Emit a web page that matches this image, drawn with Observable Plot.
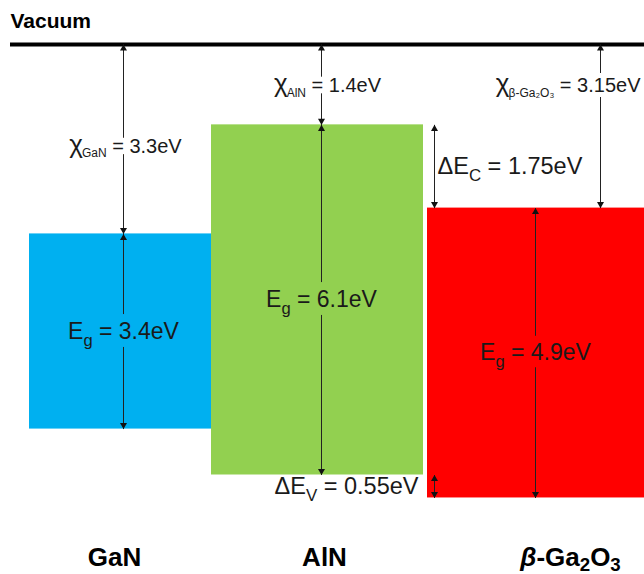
<!DOCTYPE html>
<html><head><meta charset="utf-8">
<script src="https://cdn.jsdelivr.net/npm/d3@7"></script>
<script src="https://cdn.jsdelivr.net/npm/@observablehq/plot@0.6"></script>
<style>body{margin:0;background:#fff;} svg{display:block;}</style>
</head><body><div id="chart"></div>
<script>
// ---- data (energies in eV relative to vacuum level) ----
const materials = ["GaN", "AlN", "β-Ga2O3"];
const nameLabels = ["GaN", "AlN", "β-Ga_{2}O_{3}"];
const chiSubs = ["GaN", "AlN", "β-Ga₂O₃"];
const affinity = [3.3, 1.4, 3.15];      // labelled electron affinity, eV
const bandgap = [3.4, 6.1, 4.9];        // labelled band gap, eV
const cbEdge = [-3.3, -1.4, -2.85];     // conduction band edge as drawn
const vbEdge = [-6.7, -7.5, -7.9];      // valence band edge as drawn
const deltaEc = 1.75;
const deltaEv = 0.55;
const vacuumLevel = 0;

// ---- style / schematic layout (not data) ----
const fills = ["#00b0f0", "#92d050", "#ff0000"];
const layout = {
  left: [29, 211, 427], right: [211, 423, 644],
  chiX: [123, 321, 600], egX: [123, 321, 535],
  chiLabelX: [125, 327, 640], chiLabelE: [-1.78, -0.72, -0.72],
  nameX: [114, 324, 570], offsetX: 434,
  offsetLabelLeft: 437, offsetLabelRight: 418, vacuumStart: 10, vacuumEnd: 644
};

const rows = materials.map((m, i) => ({
  name: m, cb: cbEdge[i], vb: vbEdge[i], fill: fills[i],
  x1: layout.left[i], x2: layout.right[i],
  chiX: layout.chiX[i], egX: layout.egX[i],
  chiLabel: `χ_{${chiSubs[i]}} = ${affinity[i]}eV`,
  chiLabelX: layout.chiLabelX[i], chiLabelE: layout.chiLabelE[i],
  egLabel: `E_{g} = ${bandgap[i]}eV`, egMid: (cbEdge[i] + vbEdge[i]) / 2,
  nameLabel: nameLabels[i], nameX: layout.nameX[i]
}));

const arrows = [
  ...rows.map(r => ({x: r.chiX, top: vacuumLevel, bottom: r.cb})),
  ...rows.map(r => ({x: r.egX, top: r.cb, bottom: r.vb})),
  {x: layout.offsetX, top: cbEdge[1], bottom: cbEdge[2]},
  {x: layout.offsetX, top: vbEdge[1], bottom: vbEdge[2]}
];

const offsetLabels = [
  {text: `ΔE_{C} = ${deltaEc}eV`, e: (cbEdge[1] + cbEdge[2]) / 2, x: layout.offsetLabelLeft, anchor: "start"},
  {text: `ΔE_{V} = ${deltaEv}eV`, e: (vbEdge[1] + vbEdge[2]) / 2, x: layout.offsetLabelRight, anchor: "end"}
];

const FONT = "Liberation Sans, Arial, Helvetica, sans-serif";
const pxPerEv = 57.4;

// halo (drawn first, same text in background colour) + text on top
const labelPair = (data, opts, halo, haloWidth) => [
  Plot.text(data, {...opts, fill: halo, stroke: halo, strokeWidth: haloWidth}),
  Plot.text(data, {...opts, fill: "#1a1a1a"})
];

const svg = Plot.plot({
  width: 644, height: 574,
  marginTop: 0, marginRight: 0, marginBottom: 0, marginLeft: 0,
  x: {domain: [0, 644], range: [0, 644], axis: null},
  y: {domain: [0, -8], range: [44, 44 + 8 * pxPerEv], axis: null},
  color: {type: "identity"},
  style: {fontFamily: FONT, background: "#fff"},
  marks: [
    Plot.rect(rows, {x1: "x1", x2: "x2", y1: "cb", y2: "vb", fill: "fill"}),
    Plot.ruleY([vacuumLevel], {x1: layout.vacuumStart, x2: layout.vacuumEnd, stroke: "#000", strokeWidth: 4}),
    Plot.link(arrows, {x1: "x", x2: "x", y1: "top", y2: "bottom", stroke: "#222", strokeWidth: 1}),
    Plot.dot(arrows, {x: "x", y: "top", symbol: "triangle", r: 2.6, fill: "#111", stroke: null, dy: 4}),
    Plot.dot(arrows, {x: "x", y: "bottom", symbol: "triangle", r: 2.6, fill: "#111", stroke: null, rotate: 180, dy: -4}),
    // electron affinity labels
    ...labelPair(rows.slice(0, 2), {x: "chiLabelX", y: "chiLabelE", text: "chiLabel", fontSize: 20, textAnchor: "middle"}, "#fff", 10),
    ...labelPair(rows.slice(2), {x: "chiLabelX", y: "chiLabelE", text: "chiLabel", fontSize: 20, textAnchor: "end"}, "#fff", 10),
    // band gap labels
    Plot.text(rows, {x: "egX", y: "egMid", text: "egLabel", fontSize: 23, fill: "fill", stroke: "fill", strokeWidth: 16, textAnchor: "middle"}),
    Plot.text(rows, {x: "egX", y: "egMid", text: "egLabel", fontSize: 23, fill: "#1a1a1a", textAnchor: "middle"}),
    // band offsets
    Plot.text(offsetLabels.slice(0, 1), {x: "x", y: "e", text: "text", fontSize: 23.5, fill: "#1a1a1a", textAnchor: "start"}),
    Plot.text(offsetLabels.slice(1), {x: "x", y: "e", text: "text", fontSize: 23.5, fill: "#1a1a1a", textAnchor: "end"}),
    // material names
    Plot.text(rows, {x: "nameX", frameAnchor: "bottom", lineAnchor: "bottom", dy: -9, text: "nameLabel",
      fontSize: 26, fontWeight: "bold", fill: "#000", textAnchor: "middle"}),
    // vacuum
    Plot.text(["Vacuum"], {frameAnchor: "top-left", lineAnchor: "top", dx: 10, dy: 13, text: d => d,
      fontSize: 21, fontWeight: "bold", fill: "#000", textAnchor: "start"})
  ]
});
document.getElementById("chart").append(svg);

// rich text: _{...} -> subscript, β -> italic, χ -> larger glyph
d3.select(svg).selectAll("text").each(function() {
  const el = this;
  const s = el.textContent;
  if (!/_\{|β|χ/.test(s)) return;
  const fs = parseFloat(getComputedStyle(el).fontSize) || 20;
  const isChi = s.startsWith("χ");
  const isName = fs >= 25.5;
  el.textContent = "";
  const parts = s.split(/(_\{[^}]*\}|β|χ)/).filter(p => p);
  let shifted = 0;
  for (const p of parts) {
    const t = d3.select(el).append("tspan");
    let target = 0, txt = p;
    if (p.startsWith("_{")) {
      txt = p.slice(2, -1);
      target = fs * (isChi ? 0.22 : isName ? 0.2 : 0.3);
      t.attr("font-size", fs * (isChi ? 0.6 : 0.72));
      if (isChi) t.attr("dx", -1);
    } else if (p === "β") {
      t.attr("font-style", "italic");
    } else if (p === "χ") {
      t.attr("font-size", fs * 1.3).attr("font-weight", "200");
    }
    if (target - shifted !== 0) t.attr("dy", target - shifted);
    shifted = target;
    t.text(txt);
  }
});
</script>
</body></html>
